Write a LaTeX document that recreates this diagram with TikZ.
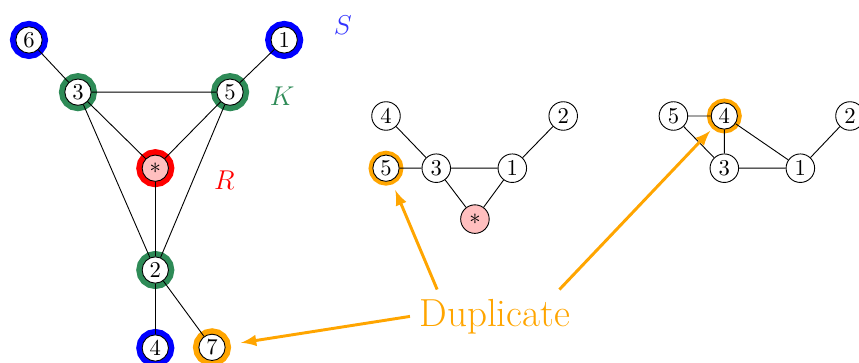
\documentclass[tikz,border=0pt]{standalone}
\usetikzlibrary{arrows}
\definecolor{seagreen}{RGB}{46,139,87}
\definecolor{duporange}{RGB}{255,165,0}
\tikzset{
  vertex/.style={circle,draw,fill=white,inner sep=0pt,minimum size=12.6pt},
  ring/.style={minimum size=11.6pt,preaction={draw=#1,line width=5.2pt}},
  thinring/.style={minimum size=11.6pt,preaction={draw=#1,line width=3.8pt}},
  duparrow/.style={->,>=latex,draw=duporange,line width=1.3pt}
}
\begin{document}
\begin{tikzpicture}
\useasboundingbox (0,0) rectangle (13.33,5.62);
% first graph
\node[vertex,ring=blue] (a6) at (0.45,5.00) {6};
\node[vertex,ring=blue] (a1) at (4.41,5.00) {1};
\node[vertex,ring=seagreen] (a3) at (1.21,4.19) {3};
\node[vertex,ring=seagreen] (a5) at (3.57,4.19) {5};
\node[vertex,ring=red,fill=pink] (as) at (2.41,3.01) {$*$};
\node[vertex,ring=seagreen] (a2) at (2.41,1.43) {2};
\node[vertex,ring=blue] (a4) at (2.41,0.22) {4};
\node[vertex,ring=duporange] (a7) at (3.29,0.23) {7};
\draw (a6)--(a3)--(a5)--(a1);
\draw (a3)--(as)--(a5)--(a2)--(a3);
\draw (as)--(a2)--(a4);
\draw (a2)--(a7);
\node[text=blue!80,font=\large] (lS) at (5.32,5.23) {$S$};
\node[text=seagreen,font=\large] (lK) at (4.38,4.13) {$K$};
\node[text=red,font=\large] (lR) at (3.48,2.82) {$R$};
% second graph
\node[vertex] (b4) at (5.99,3.82) {4};
\node[vertex] (b2) at (8.74,3.82) {2};
\node[vertex,thinring=duporange] (b5) at (5.99,3.01) {5};
\node[vertex] (b3) at (6.77,3.01) {3};
\node[vertex] (b1) at (7.95,3.01) {1};
\node[vertex,fill=pink] (bs) at (7.37,2.22) {$*$};
\draw (b4)--(b3)--(b1)--(b2);
\draw (b5)--(b3)--(bs)--(b1);
% third graph
\node[vertex] (c5) at (10.45,3.82) {5};
\node[vertex,thinring=duporange] (c4) at (11.24,3.82) {4};
\node[vertex] (c2) at (13.19,3.82) {2};
\node[vertex] (c3) at (11.24,3.01) {3};
\node[vertex] (c1) at (12.42,3.01) {1};
\draw (c5)--(c4)--(c3)--(c5);
\draw (c4)--(c1)--(c3);
\draw (c1)--(c2);
% duplicates
\node[text=duporange,font=\LARGE,inner sep=4pt] (dup) at (7.68,0.71) {Duplicate};
\draw[duparrow,shorten >=7pt] (dup.west) -- (a7);
\draw[duparrow,shorten >=4.5pt] ([xshift=12pt]dup.north west) -- (b5);
\draw[duparrow,shorten >=3pt] ([xshift=-9pt]dup.north east) -- (c4);
\end{tikzpicture}
\end{document}
